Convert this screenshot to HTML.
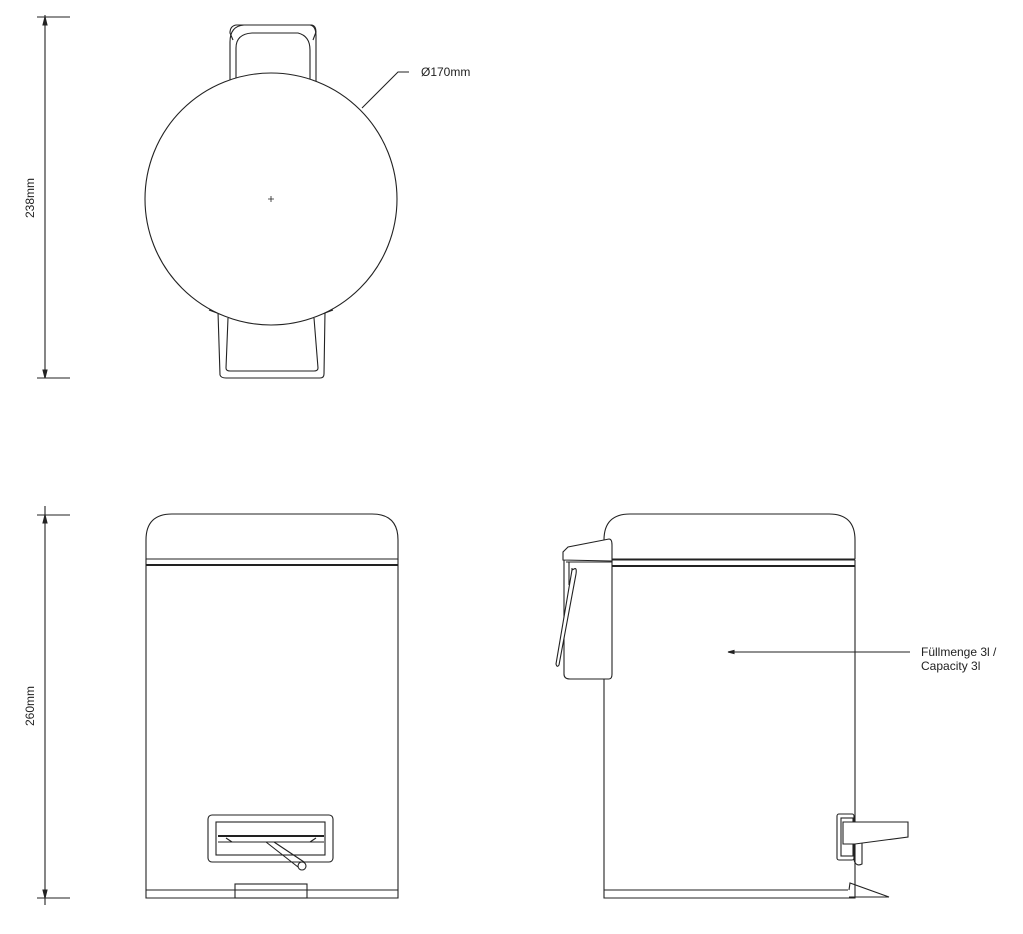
<!DOCTYPE html>
<html><head><meta charset="utf-8"><style>
html,body{margin:0;padding:0;background:#fff}
svg{display:block}
text{font-family:"Liberation Sans",sans-serif;font-size:12px;fill:#222}
</style></head><body>
<svg width="1023" height="934" viewBox="0 0 1023 934" fill="none" stroke="#222" stroke-width="1.1">
<!-- dimension 238 -->
<line x1="45" y1="15" x2="45" y2="378"/>
<line x1="37" y1="17" x2="70" y2="17"/>
<line x1="37" y1="378" x2="70" y2="378"/>
<path d="M45 17 l-2 8 h4 z M45 378 l-2 -8 h4 z" fill="#222"/>
<text x="34" y="198" transform="rotate(-90 34 198)" text-anchor="middle" stroke="none">238mm</text>
<!-- dimension 260 -->
<line x1="45" y1="506" x2="45" y2="905"/>
<line x1="37" y1="515" x2="70" y2="515"/>
<line x1="37" y1="898" x2="70" y2="898"/>
<path d="M45 515 l-2 8 h4 z M45 898 l-2 -8 h4 z" fill="#222"/>
<text x="34" y="706" transform="rotate(-90 34 706)" text-anchor="middle" stroke="none">260mm</text>

<!-- top view -->
<path d="M230 80 V42 Q230 26 244 25 H310 Q316 26 316 36 V82"/>
<path d="M236 78 V48 Q236 34 252 33 H298 Q310 36 310 50 V80"/>
<path d="M233 40 L230 33 Q230 26 236 25 H312 Q316 26 316 32 L313 40"/>
<path d="M218 312 L220 375 Q221 378 226 378 H320 Q324 378 324 374 L325 312"/>
<path d="M228 318 L226 368 Q226 371 230 371 H314 Q318 371 318 368 L314 318"/>
<path d="M209 310 Q270 335 333 310"/>
<circle cx="271" cy="199" r="126" fill="#fff"/>
<path d="M268 199 h6 M271 196 v6" stroke-width="0.8"/>
<polyline points="362,108 398,72 409,72"/>
<text x="421" y="76" stroke="none">Ø170mm</text>

<!-- front view -->
<path d="M146 559 V540 Q146 514 172 514 H372 Q398 514 398 540 V559 Z"/>
<line x1="146" y1="565" x2="398" y2="565" stroke-width="2"/>
<path d="M146 559 V898 H398 V559"/>
<line x1="146" y1="890" x2="398" y2="890"/>
<rect x="208" y="815" width="125" height="47" rx="4"/>
<rect x="216" y="822" width="109" height="33"/>
<line x1="218" y1="836" x2="324" y2="836" stroke-width="2"/>
<line x1="218" y1="842" x2="324" y2="842"/>
<path d="M226 838 L232 842 M316 838 L310 842"/>
<path d="M266 842 L298 867 M274 842 L304 862"/>
<circle cx="302" cy="866" r="4" fill="#fff"/>
<rect x="235" y="884" width="72" height="14"/>

<!-- side view -->
<path d="M604 559 V540 Q604 514 630 514 H829 Q855 514 855 540 V559 Z"/>
<line x1="604" y1="560" x2="855" y2="560"/>
<line x1="604" y1="566" x2="855" y2="566" stroke-width="2"/>
<path d="M604 560 V898 H855 V560"/>
<line x1="604" y1="890" x2="848" y2="890"/>
<path d="M849 890 L850 883 L889 897 H849"/>
<path d="M564 560 V674 Q564 679 570 679 H609 Q612 679 612 674 V560 Z" fill="#fff"/>
<path d="M563 560 V552 L568 547 L609 539 Q612 539 612 545 V561 Z" fill="#fff"/>
<line x1="566" y1="562" x2="612" y2="562"/>
<path d="M569 562 V585 M572 568 V585"/>
<path d="M574 569 Q577 567 576 574 L559 665 Q557 668 556 664 L572 570 Z" fill="#fff"/>
<line x1="910" y1="652" x2="728" y2="652"/>
<path d="M728 652 l6 -1.5 v3 z" fill="#222"/>
<text x="921" y="656" stroke="none">Füllmenge 3l /</text>
<text x="921" y="670" stroke="none">Capacity 3l</text>
<rect x="837" y="814" width="17" height="46" rx="2" fill="#fff"/>
<rect x="841" y="818" width="12" height="38"/>
<path d="M843 822 H908 V837 L855 844 H843 Z" fill="#fff"/>
<path d="M854 844 V860 Q856 867 862 864 V843"/>
</svg>
</body></html>
